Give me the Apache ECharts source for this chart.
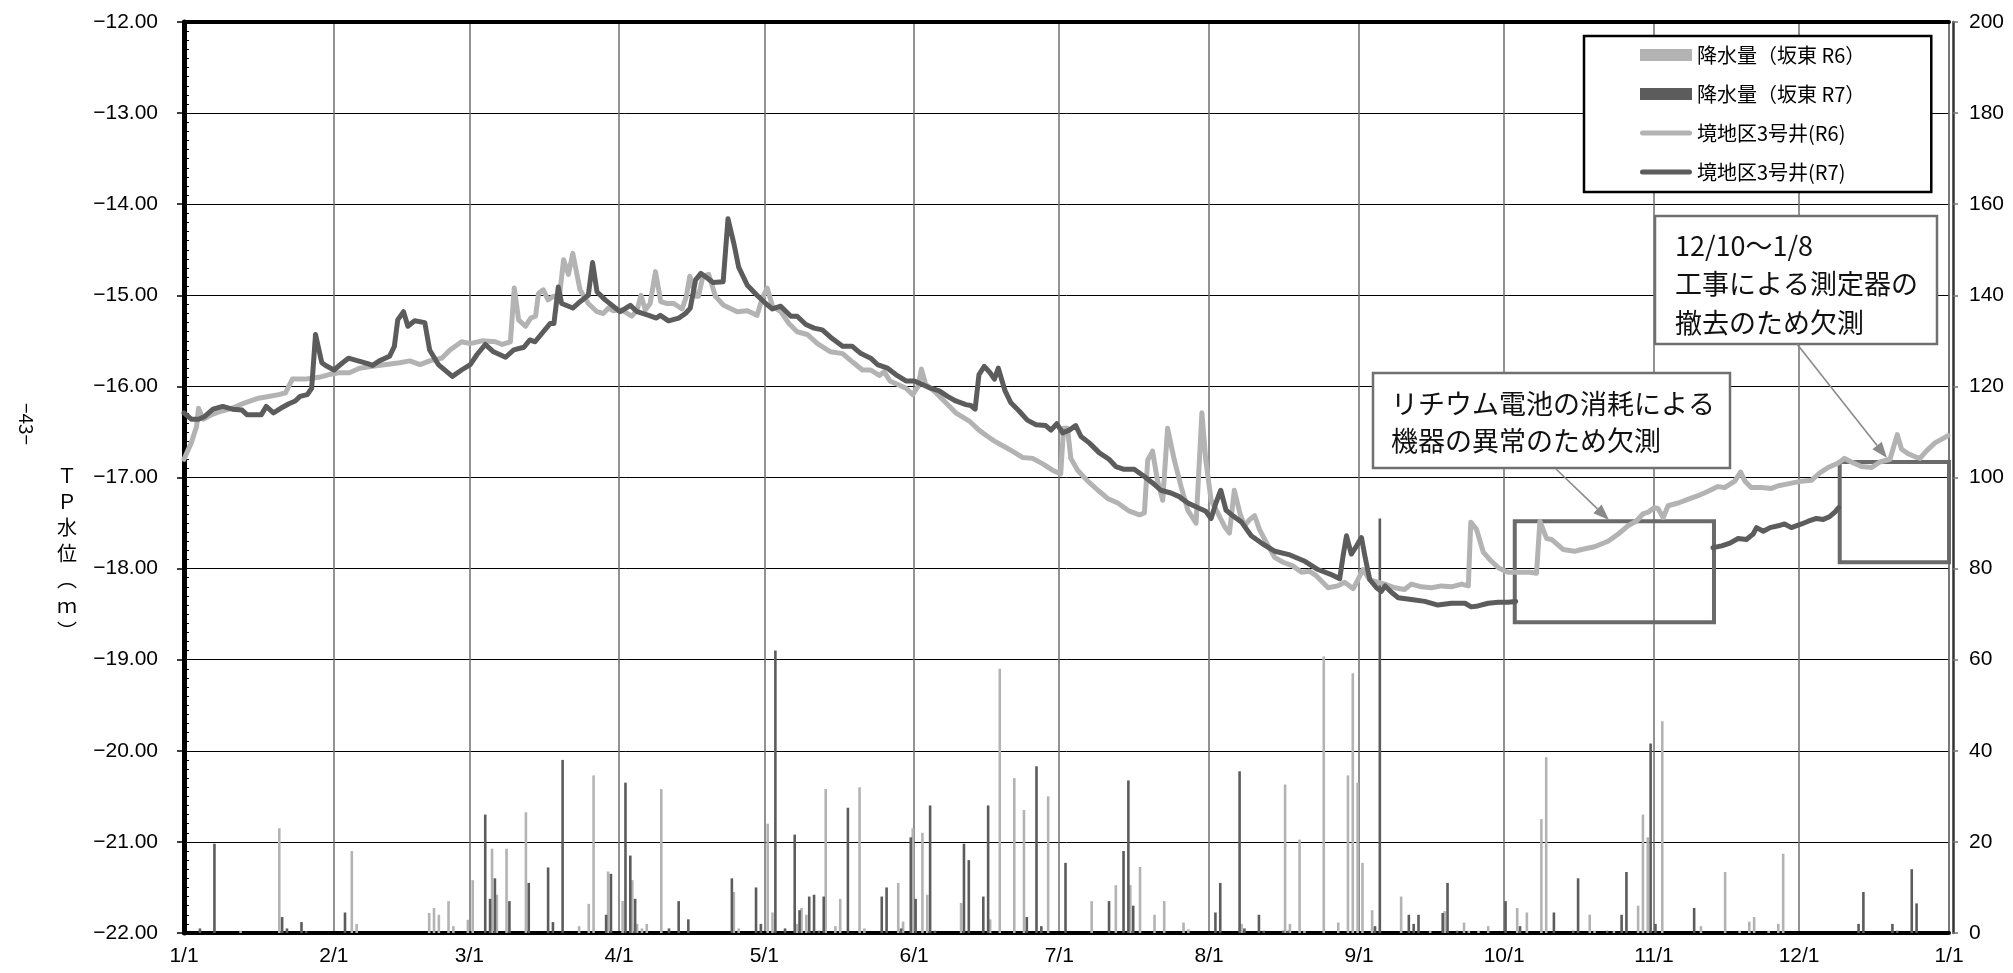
<!DOCTYPE html>
<html><head><meta charset="utf-8">
<script src="https://cdn.jsdelivr.net/npm/echarts@6/dist/echarts.min.js"></script>
<style>html,body{margin:0;padding:0;background:#fff}#c{width:2013px;height:973px}</style>
</head><body><div id="c"></div>
<script>
// ---- data (x = day of year, 0 = 1/1) ----
const monthStarts = [0,31,59,90,120,151,181,212,243,273,304,334,365];
const monthLabels = ['1/1','2/1','3/1','4/1','5/1','6/1','7/1','8/1','9/1','10/1','11/1','12/1','1/1'];
const seriesNames = ['降水量（坂東 R6）','降水量（坂東 R7）','境地区3号井(R6)','境地区3号井(R7)'];

// daily precipitation (mm), [day, mm]
const rainR6 = [[12,0.5],[20,23],[35,18],[36,2],[51,4.4],[52,5.5],[53,4],[55,7],[56,1.5],[59,2.9],[60,11.6],[64,18.5],[65,8.4],[67,18.5],[71,26.5],[82,1.5],[84,6.4],[85,34.6],[88,13.5],[91,7],[93,11.6],[94,2],[95,1],[96,2],[99,31.6],
[114,9],[115,1],[121,24],[122,4.5],[127,2],[128,5.5],[129,4],[133,31.6],[135,1.5],[136,7.5],[140,32],[141,1],[148,11],[149,2.5],[151,23],[153,22],[154,8.4],[161,6.6],[167,3],[169,58],[172,34],[174,27],[179,30],[188,7],[193,10.5],[196,10.5],[198,14.5],[201,4],[203,7],[207,2.3],[208,0.8],[219,2],
[228,32.6],[229,2],[231,20.5],[232,0.5],[236,60.7],[239,2.3],[241,34.6],[242,57],[243,33],[244,15.4],[246,5],[252,8],[258,0.5],[261,4.8],[265,2.3],[266,0.5],[268,0.5],[270,1.5],[276,5.5],[278,4.5],[281,25],[282,38.6],[291,4],[292,0.5],[296,0.5],[301,6],[302,26],[303,21],[306,46.5],[314,1.5],[319,13.4],[322,0.5],[324,2.5],[325,3.5],[328,0.5],[330,2],[331,17.4]];
const rainR7 = [[3,1],[6,19.6],[20,3.5],[21,1],[24,2.4],[25,0.4],[33,4.5],[62,26],[63,7.5],[64,12],[67,7],[71,11],[75,14.4],[76,2.4],[78,38],[87,4],[88,13],[91,33],[92,17],[93,7.5],[100,1],[102,7],[104,3],[113,12],[118,10],[119,2],[122,62],[124,1],[126,21.6],[127,5],[129,8],[130,8.4],[131,0.5],[132,8],[137,27.5],[144,8],[145,10],[148,1],[150,21],[151,7.5],[154,28],[155,0.5],[161,19.6],[162,16],[165,8],[166,28],[174,3.5],[176,36.6],[177,1.5],[182,15.4],[191,7],[194,18],[195,33.5],[196,6],[213,4.5],[214,11],[218,35.5],[219,1],[222,4],[223,0.5],[227,0.5],[228,0.5],[246,1.5],[247,91],[253,4],[254,2],[255,4],[260,4.4],[261,11],[263,0.5],[273,7],[276,1.5],[283,4.5],[287,0.5],[288,12],[294,0.5],[297,4],[298,13.4],[303,41.6],[304,2],[312,5.5],[346,2],[347,9],[353,2],[354,0.5],[357,14],[358,6.5]];

// groundwater level TP (m), [day, m]
const levelR6 = [[0,-16.80],[1.5,-16.62],[2.6,-16.44],[3,-16.24],[4,-16.36],[5.7,-16.31],[7.8,-16.27],[9.9,-16.24],[12.6,-16.18],[15.4,-16.13],[17.5,-16.11],[19.6,-16.09],[21,-16.07],[22.4,-15.92],[25,-15.92],[27.9,-15.90],[30,-15.87],[32,-15.85],[34.2,-15.85],[36.3,-15.80],[39,-15.78],[41.8,-15.76],[44.6,-15.74],[46.7,-15.72],[48.8,-15.76],[50.8,-15.72],[53.3,-15.69],[55,-15.60],[57.4,-15.51],[59.2,-15.53],[61.6,-15.50],[64.4,-15.51],[65.8,-15.54],[67.5,-15.51],[68.3,-14.92],[69.2,-15.27],[70.6,-15.34],[71.7,-15.25],[72.7,-15.23],[73.3,-14.98],[74.3,-14.94],[75.3,-15.05],[76.4,-15.01],[77.6,-15.03],[78.5,-14.61],[79.5,-14.77],[80.4,-14.54],[81.9,-14.94],[83.6,-15.09],[85.4,-15.18],[86.7,-15.20],[87.8,-15.14],[88.8,-15.17],[90.5,-15.16],[92.6,-15.23],[93.7,-15.16],[94.5,-15.00],[95.4,-15.16],[96.4,-15.09],[97.5,-14.74],[98.6,-15.07],[99.9,-15.09],[101.3,-15.09],[103,-15.15],[103.9,-15.01],[104.6,-14.79],[105.8,-15.01],[106.4,-15.01],[107.3,-14.79],[108.5,-14.77],[109.9,-15.01],[111.6,-15.11],[114.4,-15.18],[116.5,-15.17],[118.5,-15.22],[119.6,-15.03],[120.6,-14.92],[121.7,-15.12],[123.4,-15.18],[125.1,-15.31],[126.8,-15.40],[128.9,-15.43],[131,-15.53],[133.7,-15.62],[136.2,-15.64],[138.2,-15.73],[140.3,-15.82],[142,-15.82],[143.8,-15.88],[144.8,-15.84],[146,-15.94],[147.6,-15.98],[149.3,-16.02],[150.7,-16.09],[151.8,-16.00],[152.5,-15.81],[153.4,-15.98],[155.1,-16.05],[157.2,-16.16],[159.6,-16.29],[162.4,-16.38],[164.4,-16.48],[166.2,-16.55],[167.6,-16.60],[169.6,-16.66],[171.3,-16.71],[173.4,-16.78],[175.5,-16.79],[177.6,-16.85],[179.6,-16.92],[181.3,-16.96],[181.9,-16.46],[182.7,-16.46],[183.4,-16.79],[184.8,-16.92],[186.9,-17.04],[189,-17.14],[191,-17.23],[193.1,-17.28],[195.5,-17.37],[197.6,-17.41],[198.6,-17.39],[199.3,-16.81],[200.3,-16.71],[201.3,-17.03],[202.4,-17.25],[203.4,-16.46],[204.8,-16.81],[206.2,-17.10],[207.6,-17.36],[209.3,-17.50],[210.5,-16.29],[211.3,-16.81],[212.4,-17.25],[213.8,-17.39],[215.2,-17.54],[216.2,-17.61],[217.2,-17.14],[218.4,-17.40],[219.3,-17.53],[220.4,-17.46],[221.4,-17.42],[222.4,-17.57],[224.2,-17.75],[225.6,-17.88],[227.3,-17.93],[229.3,-17.97],[231.1,-18.04],[232.8,-18.03],[234.2,-18.08],[236.6,-18.21],[238.6,-18.19],[240,-18.15],[241.8,-18.22],[242.8,-18.12],[243.8,-18.01],[245.2,-18.12],[246.9,-18.15],[248.3,-18.17],[250.4,-18.21],[252.4,-18.23],[253.8,-18.17],[255.9,-18.20],[258,-18.21],[260,-18.19],[262.1,-18.20],[264.2,-18.17],[265.6,-18.19],[266.1,-17.49],[267.3,-17.57],[268.7,-17.82],[270,-17.90],[271.8,-17.99],[273.8,-18.04],[275.9,-18.04],[278.3,-18.04],[279.7,-18.05],[280.4,-17.48],[281.8,-17.67],[282.8,-17.68],[285.2,-17.79],[287.6,-17.81],[289,-17.79],[291.7,-17.76],[294.5,-17.70],[296.6,-17.62],[298.6,-17.53],[300.3,-17.48],[301.7,-17.40],[302.8,-17.38],[304.1,-17.33],[304.8,-17.34],[305.9,-17.44],[306.9,-17.31],[309,-17.28],[311,-17.24],[313.1,-17.20],[315.2,-17.15],[317.2,-17.10],[318.6,-17.11],[320.7,-17.04],[321.9,-16.94],[322.8,-17.04],[324.1,-17.11],[326.2,-17.11],[328.3,-17.12],[329.7,-17.09],[331.7,-17.07],[334.5,-17.04],[336.6,-17.03],[338.3,-16.95],[340,-16.89],[342.1,-16.84],[343.4,-16.79],[344.8,-16.83],[346.9,-16.88],[349,-16.89],[350.7,-16.83],[352.8,-16.80],[353.4,-16.69],[354.3,-16.53],[355.2,-16.69],[356.6,-16.74],[357.9,-16.77],[359,-16.79],[360.3,-16.71],[362.1,-16.62],[363.8,-16.57],[364.8,-16.54]];
const levelR7 = [[0,-16.29],[1.5,-16.36],[3,-16.36],[4.3,-16.33],[6,-16.25],[8,-16.22],[10,-16.25],[12,-16.26],[13,-16.31],[16,-16.31],[17,-16.22],[18.5,-16.29],[20,-16.24],[21.7,-16.19],[23,-16.16],[24,-16.11],[25.5,-16.09],[26.4,-16.02],[27.2,-15.43],[28.5,-15.74],[29.3,-15.77],[31,-15.82],[32.8,-15.74],[34,-15.69],[36,-15.72],[38,-15.75],[39,-15.77],[40.4,-15.72],[42.5,-15.67],[43.5,-15.56],[44.2,-15.27],[45.4,-15.18],[46.3,-15.34],[47.7,-15.28],[49.8,-15.30],[50.8,-15.60],[52.6,-15.76],[55.5,-15.89],[57.4,-15.82],[59.2,-15.76],[60.6,-15.65],[62.3,-15.54],[64,-15.62],[66.5,-15.68],[68.2,-15.60],[70.3,-15.57],[71.5,-15.49],[72.6,-15.51],[74.3,-15.40],[75.7,-15.31],[76.5,-15.31],[77.4,-14.91],[78.1,-15.09],[80.4,-15.14],[81.9,-15.07],[83.6,-15.00],[84.5,-14.64],[85.4,-14.96],[87.1,-15.05],[90.2,-15.18],[92.3,-15.11],[93.7,-15.18],[96.1,-15.22],[97.7,-15.25],[98.5,-15.22],[100.2,-15.28],[102.3,-15.25],[103.7,-15.20],[104.7,-15.14],[105.8,-14.83],[106.9,-14.76],[108.2,-14.81],[109.4,-14.86],[111.5,-14.85],[112.5,-14.16],[113.7,-14.43],[114.7,-14.69],[116.5,-14.89],[118.5,-15.00],[120.3,-15.09],[121.7,-15.15],[123.4,-15.12],[125.5,-15.23],[126.8,-15.23],[128.6,-15.32],[130.3,-15.36],[132,-15.38],[133.7,-15.46],[136.2,-15.56],[138.2,-15.56],[140,-15.64],[142,-15.69],[143.4,-15.76],[145.5,-15.80],[147.2,-15.87],[149.3,-15.94],[151,-15.94],[152.7,-15.98],[154.4,-16.02],[156.2,-16.05],[157.9,-16.11],[159.6,-16.16],[161.7,-16.20],[162.7,-16.21],[163.6,-16.25],[164.4,-15.87],[165.5,-15.78],[166.7,-15.85],[167.6,-15.92],[168.4,-15.80],[169.8,-16.05],[171,-16.18],[172.7,-16.27],[174.4,-16.37],[176.2,-16.42],[178.2,-16.43],[179.3,-16.48],[180.5,-16.41],[181.7,-16.51],[183.1,-16.48],[184.4,-16.43],[185.5,-16.55],[187.2,-16.62],[189.3,-16.73],[191.3,-16.80],[192.7,-16.88],[194.4,-16.91],[196.5,-16.91],[198.6,-16.99],[200.3,-17.06],[202,-17.14],[204.1,-17.17],[205.8,-17.21],[207.6,-17.28],[209.6,-17.33],[211.3,-17.37],[212.4,-17.45],[213.4,-17.28],[214.4,-17.14],[215.5,-17.36],[216.9,-17.42],[218.7,-17.49],[220.7,-17.64],[223.1,-17.73],[225.6,-17.81],[228.7,-17.85],[231.8,-17.92],[234.5,-18.01],[237,-18.06],[239,-18.11],[239.7,-17.86],[240.4,-17.64],[241.4,-17.84],[242.5,-17.75],[243.5,-17.66],[244.2,-17.86],[245.2,-18.12],[246.6,-18.21],[247.6,-18.25],[248.4,-18.19],[249.7,-18.26],[251.1,-18.32],[253.8,-18.34],[256.6,-18.36],[259.3,-18.40],[262.1,-18.38],[264.9,-18.38],[266.2,-18.42],[267.6,-18.41],[269.7,-18.38],[271.8,-18.37],[273.8,-18.37],[275.4,-18.36],[295,null],[316.2,-17.77],[318,-17.75],[319.7,-17.72],[321.4,-17.67],[323.1,-17.68],[324.5,-17.62],[325.2,-17.55],[326.6,-17.59],[328,-17.55],[329.7,-17.53],[331,-17.51],[332.4,-17.55],[334.5,-17.51],[335.9,-17.48],[337.6,-17.45],[339,-17.46],[340.3,-17.43],[341.4,-17.38],[342.2,-17.33]];

// missing-data boxes, in data coordinates [[dayStart, levelTop],[dayEnd, levelBottom]]
const missingBoxes = [[[275.2,-17.48],[316.4,-18.59]],[[342.4,-16.83],[365,-17.93]]];

// ---- chart ----
const FONT_NUM = 'Liberation Sans';
const FONT_JP = 'Noto Sans CJK JP';
const C_LIGHT = '#b3b3b3', C_DARK = '#5c5c5c';
const LINE_ICON = 'path://M2.5,0 H49.5 A2.5,2.5 0 0 1 49.5,5 H2.5 A2.5,2.5 0 0 1 2.5,0 Z';

function arrowHead(x1,y1,x2,y2,len,half){
  const a = Math.atan2(y2-y1,x2-x1);
  const bx = x2-len*Math.cos(a), by = y2-len*Math.sin(a);
  return [[x2,y2],[bx+half*Math.sin(a),by-half*Math.cos(a)],[bx-half*Math.sin(a),by+half*Math.cos(a)]];
}
const arrows = [[1556,469,1609,520],[1797,344,1887,458]];
const arrowGraphics = [];
arrows.forEach(a=>{
  const ah = arrowHead(a[0],a[1],a[2],a[3],16,6);
  const bx = (ah[1][0]+ah[2][0])/2, by=(ah[1][1]+ah[2][1])/2;
  arrowGraphics.push({type:'line',z:100,shape:{x1:a[0],y1:a[1],x2:bx,y2:by},style:{stroke:'#8a8a8a',lineWidth:1.6}});
  arrowGraphics.push({type:'polygon',z:100,shape:{points:ah},style:{fill:'#8a8a8a'}});
});

const chart = echarts.init(document.getElementById('c'), null, {renderer:'canvas'});
chart.setOption({
  animation:false,
  backgroundColor:'#fff',
  grid:{left:184,right:64,top:22,bottom:40,show:true,borderColor:'#777',borderWidth:1.5,containLabel:false,outerBoundsMode:'none'},
  legend:{
    orient:'vertical', left:1584, top:36,
    padding:[9,66,10,56], itemGap:19, itemWidth:52, itemHeight:12,
    borderColor:'#000', borderWidth:2.5, backgroundColor:'#fff', borderRadius:0,
    textStyle:{fontSize:20,color:'#000',fontFamily:FONT_JP},
    data:[{name:seriesNames[0],icon:'rect'},{name:seriesNames[1],icon:'rect'},{name:seriesNames[2],icon:LINE_ICON},{name:seriesNames[3],icon:LINE_ICON}]
  },
  xAxis:[{
    type:'value', min:0, max:365, position:'bottom',
    axisLine:{show:true,onZero:false,lineStyle:{color:'#000',width:4}},
    axisTick:{show:false,customValues:monthStarts},
    axisLabel:{customValues:monthStarts,showMinLabel:true,showMaxLabel:true,margin:13,fontSize:21,color:'#000',fontFamily:FONT_NUM,
      formatter:v=>monthLabels[monthStarts.indexOf(Math.round(v))]},
    splitLine:{show:true,lineStyle:{color:'#6e6e6e',width:1.5}}
  },{
    type:'value', min:0, max:365, position:'top',
    axisLine:{show:true,onZero:false,lineStyle:{color:'#000',width:4}},
    axisTick:{show:false}, axisLabel:{show:false}, splitLine:{show:false}
  }],
  yAxis:[{
    type:'value', min:-22, max:-12, interval:1, position:'left',
    axisLine:{show:true,onZero:false,lineStyle:{color:'#000',width:5}},
    axisTick:{show:true,inside:false,length:7,lineStyle:{color:'#000',width:1.5}},
    axisLabel:{margin:26,fontSize:21,color:'#000',fontFamily:FONT_NUM,
      formatter:v=>(v<0?'\u2212':'')+Math.abs(v).toFixed(2)},
    splitLine:{show:true,lineStyle:{color:'#000',width:1}}
  },{
    type:'value', min:0, max:200, interval:20, position:'right', offset:4,
    axisLine:{show:true,onZero:false,lineStyle:{color:'#333',width:2.5}},
    axisTick:{show:true,inside:false,length:5,lineStyle:{color:'#777',width:1.5}},
    axisLabel:{margin:16,fontSize:21,color:'#000',fontFamily:FONT_NUM},
    splitLine:{show:false}
  },{
    type:'value', min:-22, max:-12, interval:1, position:'left',
    axisLine:{show:false},
    axisTick:{show:true,inside:true,length:5,lineStyle:{color:'#000',width:1}},
    minorTick:{show:true,splitNumber:10,length:5,lineStyle:{color:'#000',width:1}},
    axisLabel:{show:false}, splitLine:{show:false}
  }],
  series:[
    {name:seriesNames[0],type:'bar',xAxisIndex:0,yAxisIndex:1,data:rainR6,barWidth:2.6,barGap:'10%',itemStyle:{color:C_LIGHT},z:2},
    {name:seriesNames[1],type:'bar',xAxisIndex:0,yAxisIndex:1,data:rainR7,barWidth:2.6,barGap:'10%',itemStyle:{color:C_DARK},z:2},
    {name:seriesNames[2],type:'line',xAxisIndex:0,yAxisIndex:0,data:levelR6,symbol:'none',showSymbol:false,
      lineStyle:{color:C_LIGHT,width:5,cap:'round',join:'round'},itemStyle:{color:C_LIGHT},z:3},
    {name:seriesNames[3],type:'line',xAxisIndex:0,yAxisIndex:0,data:levelR7,symbol:'none',showSymbol:false,connectNulls:false,
      lineStyle:{color:C_DARK,width:5,cap:'round',join:'round'},itemStyle:{color:C_DARK},z:4,
      markArea:{silent:true,itemStyle:{color:'rgba(0,0,0,0)',borderColor:'#6a6a6a',borderWidth:4},
        data:missingBoxes.map(b=>[{coord:b[0]},{coord:b[1]}])}}
  ],
  graphic:[
    {type:'text',z:100,left:57,top:462,style:{text:'Ｔ\nＰ\n水\n位\n︵\nｍ\n︶',font:'20px "Noto Sans CJK JP"',lineHeight:26,fill:'#000',align:'center'}},
    {type:'text',z:100,x:26,y:424,rotation:-Math.PI/2,style:{text:'\u221243\u2212',font:'19px "Noto Sans CJK JP"',fill:'#000',align:'center',verticalAlign:'middle'}},
    {type:'rect',z:100,shape:{x:1373,y:373,width:357,height:95},style:{fill:'#fff',stroke:'#707070',lineWidth:2.5}},
    {type:'text',z:101,x:1391,y:385,style:{text:'リチウム電池の消耗による\n機器の異常のため欠測',font:'27px "Noto Sans CJK JP"',lineHeight:37,fill:'#111'}},
    {type:'rect',z:100,shape:{x:1655,y:216,width:282,height:128},style:{fill:'#fff',stroke:'#707070',lineWidth:2.5}},
    {type:'text',z:101,x:1675,y:226,style:{text:'12/10～1/8\n工事による測定器の\n撤去のため欠測',font:'27px "Noto Sans CJK JP"',lineHeight:38.5,fill:'#111'}}
  ].concat(arrowGraphics)
});
</script></body></html>
